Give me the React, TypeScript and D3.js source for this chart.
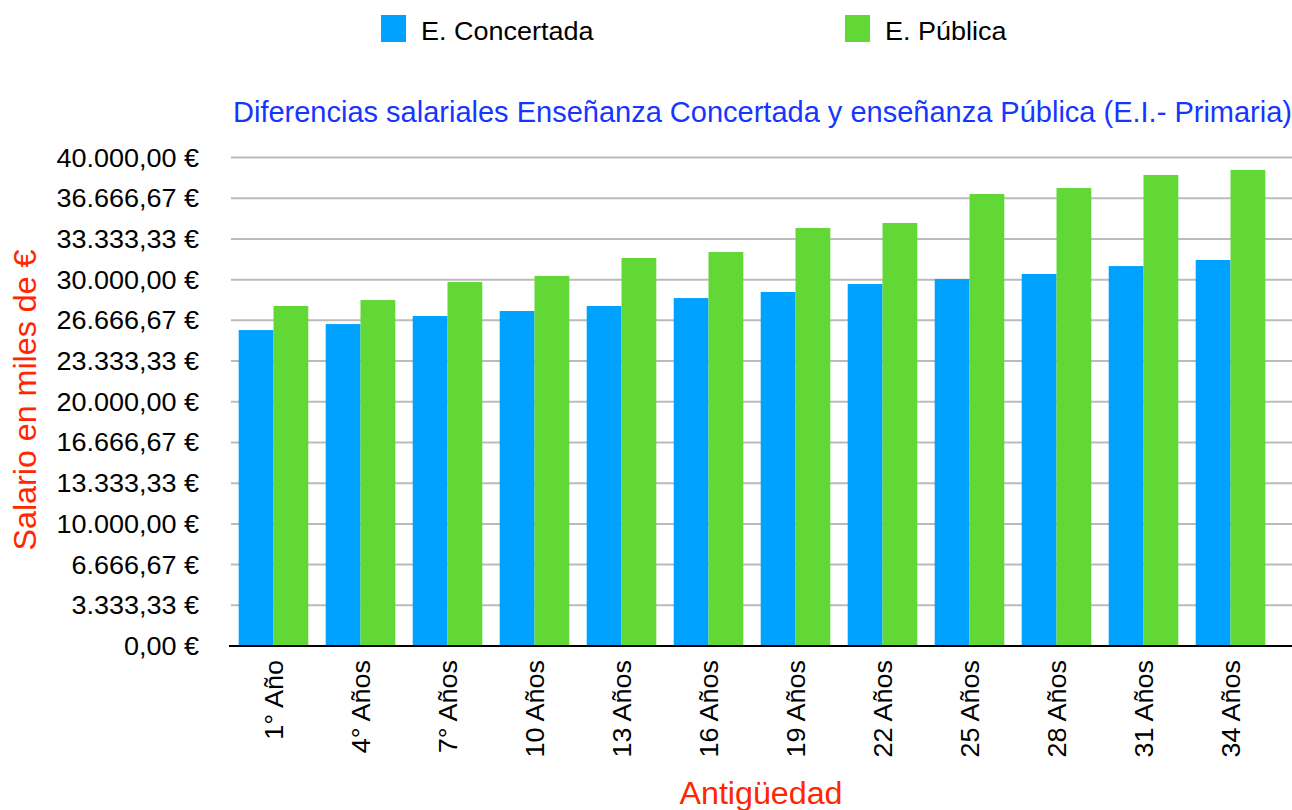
import React from 'react';
import * as d3 from 'd3';

const categories = ['1° Año', '4° Años', '7° Años', '10 Años', '13 Años', '16 Años', '19 Años', '22 Años', '25 Años', '28 Años', '31 Años', '34 Años'];
const concertada = [25870, 26360, 27020, 27430, 27840, 28490, 28990, 29640, 30050, 30460, 31110, 31610];
const publica = [27840, 28330, 29800, 30300, 31770, 32260, 34230, 34640, 37010, 37500, 38570, 38980];
const seriesNames = ['E. Concertada', 'E. Pública'];
const seriesColors = ['#00A2FF', '#61D836'];
const yTicks = d3.range(0, 13).map((i) => (i * 40000) / 12);
const chartTitle = 'Diferencias salariales Enseñanza Concertada y enseñanza Pública (E.I.- Primaria)';
const yTitle = 'Salario en miles de €';
const xTitle = 'Antigüedad';

const locale = d3.formatLocale({ decimal: ',', thousands: '.', grouping: [3], currency: ['', ' €'] });
const fmt = locale.format(',.2f');

const FONT = '"Liberation Sans", Arial, Helvetica, sans-serif';
const SX = 1.08;

export default function App() {
  const W = 1292;
  const H = 810;
  const left = 230;
  const right = 1274;
  const y = d3.scaleLinear().domain([0, 40000]).range([646, 157.5]);
  const x0 = d3.scaleBand<string>().domain(categories).range([left, right]).paddingInner(0.2).paddingOuter(0.1);
  const x1 = d3.scaleBand<string>().domain(seriesNames).range([0, x0.bandwidth()]);
  const data = [concertada, publica];
  const legendX = [381, 845];
  const legendTextX = [421, 885];

  return (
    <svg width={W} height={H} style={{ position: 'absolute', left: 0, top: 0, background: '#fff' }} fontFamily={FONT}>
      {/* legend */}
      {seriesNames.map((s, i) => (
        <g key={s}>
          <rect x={legendX[i]} y={15} width={25} height={27} fill={seriesColors[i]} />
          <text transform={`translate(${legendTextX[i]},39.5) scale(${SX},1)`} fontSize={25} fill="#000">{s}</text>
        </g>
      ))}

      {/* title */}
      <text x={233} y={121.5} fontSize={29} fill="#1536FF">{chartTitle}</text>

      {/* gridlines */}
      {yTicks.map((t, i) => (
        <g key={i}>
          {i > 0 && <line x1={231} x2={W} y1={y(t)} y2={y(t)} stroke="#BBBBBB" strokeWidth={2} />}
          <text transform={`translate(199,${y(t)}) scale(${SX},1)`} dy="0.36em" textAnchor="end" fontSize={25} fill="#000">
            {fmt(t)} €
          </text>
        </g>
      ))}

      {/* bars */}
      {categories.map((c, i) => (
        <g key={c} transform={`translate(${x0(c)},0)`}>
          {seriesNames.map((s, j) => (
            <rect
              key={s}
              x={x1(s)}
              y={y(data[j][i])}
              width={x1.bandwidth()}
              height={y(0) - y(data[j][i])}
              fill={seriesColors[j]}
            />
          ))}
        </g>
      ))}

      {/* baseline */}
      <line x1={229} x2={W} y1={y(0)} y2={y(0)} stroke="#000" strokeWidth={2} />

      {/* x labels */}
      {categories.map((c) => {
        const cx = (x0(c) as number) + x0.bandwidth() / 2;
        return (
          <text
            key={c}
            transform={`translate(${cx},660) rotate(-90) scale(${SX},1)`}
            textAnchor="end"
            dy="0.36em"
            fontSize={25}
            fill="#000"
          >
            {c}
          </text>
        );
      })}

      {/* axis titles */}
      <text transform={`translate(36,400) rotate(-90) scale(1.04,1)`} textAnchor="middle" fontSize={31} fill="#FF2600">
        {yTitle}
      </text>
      <text transform={`translate(761,804) scale(1.04,1)`} textAnchor="middle" fontSize={31} fill="#FF2600">
        {xTitle}
      </text>
    </svg>
  );
}
